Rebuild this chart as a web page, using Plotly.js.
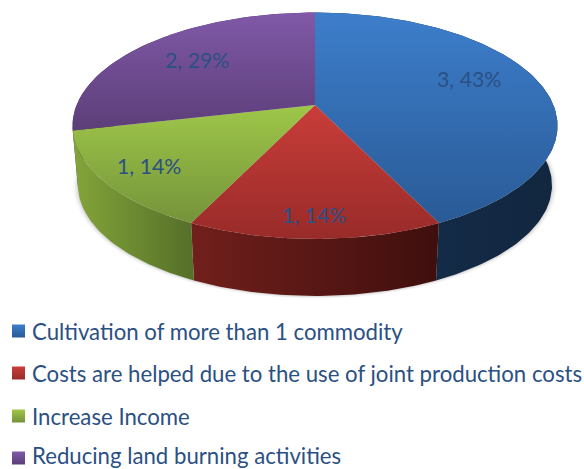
<!DOCTYPE html>
<html><head><meta charset="utf-8">
<script src="https://cdn.plot.ly/plotly-3.0.1.min.js"></script>
<style>html,body{margin:0;padding:0;background:#fff}#c{width:584px;height:469px}</style>
</head><body><div id="c"></div>
<script>
const categories = ["Cultivation of more than 1 commodity","Costs are helped due to the use of joint production costs","Increase Income","Reducing land burning activities"];
const values = [3,1,1,2];
const topColors = [["#3d7ecb","#295a96"],["#c93d39","#982b29"],["#9fc749","#74933a"],["#8059a8","#5c3e78"]];
const wallColors = [["#15304f","#12263f"],["#711f1c","#3f0f0d"],["#83a53a","#556f28"],["#4a3160","#4a3160"]];
const textColor = "#2b5083";
const labelPos = [[469,79],[314,215],[149,166],[197,60]];
const legendRows = [331,373,416,455];
const legendSwatchRows = [331,373,416,458];
const legendSwatchX = 18.5, legendTextX = 30;

const K = 0.183;
const topFace = {cx:315, cy:105, A:238.4, B:109.4};
const botFace = {cx:315, cy:165, A:233, B:107};
const rad = d => d*Math.PI/180;
function proj(f, deg, r){
  const s = Math.sin(rad(deg))*r, c = Math.cos(rad(deg))*r, d = 1+K*c;
  return [f.cx + f.A*s/d, f.cy - f.B*c/d];
}
function arc(f, a, b){
  const n = Math.max(2, Math.ceil(Math.abs(b-a))), out = [];
  for(let i=0;i<=n;i++) out.push(proj(f, a+(b-a)*i/n, 1));
  return out;
}
const total = values.reduce((p,v)=>p+v,0);
const slices = []; let acc = 0;
values.forEach(v=>{ slices.push([acc/total*360,(acc+v)/total*360]); acc+=v; });

function poly(pts, scale, name){
  return {x:pts.map(p=>p[0]), y:pts.map(p=>p[1]), type:'scatter', mode:'lines', fill:'toself',
    line:{width:0}, showlegend:false, hoverinfo:'skip', fillgradient:scale, name:name};
}
const traces = [];
// soft shadow beneath the body
[[1.02,1.02,0.035],[1.012,1.012,0.05],[1.005,1.006,0.07]].forEach(s=>{
  const f = {cx:botFace.cx, cy:botFace.cy, A:botFace.A*s[0], B:botFace.B*s[1]};
  const pts = arc(f,0,360);
  traces.push({x:pts.map(p=>p[0]),y:pts.map(p=>p[1]),type:'scatter',mode:'lines',fill:'toself',line:{width:0},
    fillcolor:`rgba(0,0,0,${s[2]})`,showlegend:false,hoverinfo:'skip'});
});
// walls
[3,0,1,2].forEach(i=>{
  const [a,b] = slices[i];
  const pts = arc(topFace,a,b).concat(arc(botFace,b,a));
  traces.push(poly(pts,{type:'horizontal',colorscale:[[0,wallColors[i][0]],[1,wallColors[i][1]]]},categories[i]));
});
// top faces (y axis runs downward, so the scale is given bottom colour first)
[0,1,2,3].forEach(i=>{
  const [a,b] = slices[i];
  const pts = [[topFace.cx,topFace.cy]].concat(arc(topFace,a,b));
  traces.push(poly(pts,{type:'vertical',colorscale:[[0,topColors[i][1]],[1,topColors[i][0]]]},categories[i]));
});
// legend swatches
categories.forEach((c,i)=>{
  traces.push({x:[legendSwatchX],y:[legendSwatchRows[i]],type:'scatter',mode:'markers',name:c,showlegend:false,
    marker:{symbol:'square',size:13,color:topColors[i][0],gradient:{type:'vertical',color:topColors[i][1]}},hoverinfo:'skip'});
});
const labelAnn = values.map((v,i)=>({
  x:labelPos[i][0], y:labelPos[i][1], xref:'x', yref:'y', showarrow:false,
  text:`${v}, ${Math.round(v/total*100)}%`, font:{family:'Lato, Carlito, sans-serif',size:21.3,color:textColor}
}));
const legendAnn = categories.map((c,i)=>({
  x:legendTextX, y:legendRows[i], xref:'x', yref:'y', xanchor:'left', showarrow:false, text:c,
  font:{family:'Lato, Carlito, sans-serif',size:22.2,color:textColor}
}));
const layout = {
  width:584,height:469,margin:{l:0,r:0,t:0,b:0},paper_bgcolor:'#fff',plot_bgcolor:'#fff',
  xaxis:{range:[0,584],visible:false,fixedrange:true},
  yaxis:{range:[469,0],visible:false,fixedrange:true},
  showlegend:false,
  annotations:labelAnn.concat(legendAnn)
};
Plotly.newPlot('c',traces,layout,{displayModeBar:false,staticPlot:true});
</script></body></html>
